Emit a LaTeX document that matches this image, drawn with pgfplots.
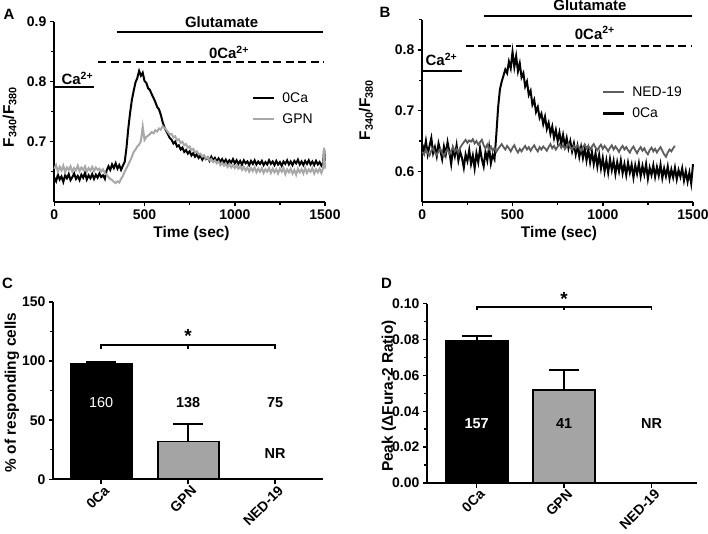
\documentclass[border=0pt]{standalone}
\usepackage{fontspec}
\setmainfont{Liberation Sans}
\usepackage{pgfplots}
\usepackage{pgfplotstable}
\pgfplotsset{compat=1.18}
\definecolor{gpn}{HTML}{A8A8A8}
\definecolor{ned}{HTML}{5E5E5E}
\definecolor{gpnbar}{HTML}{A4A4A4}
\newcommand\tfont{\bfseries\fontsize{15.5}{18}\selectfont}
\newcommand\afont{\bfseries\fontsize{15}{18}\selectfont}
\newcommand\nfont{\bfseries\fontsize{14.5}{17}\selectfont}
\pgfplotsset{prism/.style={scale only axis, axis lines=left, axis line style={-, line width=1.8bp},
  tick align=outside, major tick length=4.5bp, minor tick length=3bp,
  every tick/.style={black, line width=1.5bp},
  tick label style={font=\bfseries\fontsize{14}{16}\selectfont},
  label style={font=\tfont},
  /pgf/number format/assume math mode=true, /pgf/number format/set thousands separator={},
  clip=false, anchor=south west},
  trleg/.style={legend style={draw=none, fill=none, anchor=north west, font=\fontsize{14}{16}\selectfont, row sep=6bp, nodes={inner sep=2bp}},
  legend cell align=left,
  legend image code/.code={\draw[##1, line width=2.2bp] (0bp,0bp) -- (21bp,0bp); \path (26bp,0bp);}}}
\pgfplotstableread{
t zca gpn
0 .640 .655
10 .634 .661
20 .645 .650
30 .637 .658
40 .642 .652
50 .633 .660
60 .644 .649
70 .639 .657
80 .646 .653
90 .636 .659
100 .641 .650
110 .647 .656
120 .638 .652
130 .643 .660
140 .636 .651
150 .645 .657
160 .640 .653
170 .648 .659
180 .637 .650
190 .644 .656
200 .639 .652
210 .646 .658
220 .638 .651
230 .645 .657
240 .640 .653
250 .647 .655
260 .641 .650
270 .644 .654
280 .638 .648
290 .652 .645
300 .659 .641
310 .653 .638
320 .662 .636
330 .656 .633
340 .664 .631
350 .655 .634
360 .661 .632
370 .653 .638
380 .660 .643
390 .666 .650
400 .690 .656
410 .722 .662
420 .748 .668
430 .770 .675
440 .785 .683
450 .799 .687
460 .806 .692
470 .818 .695
480 .810 .701
490 .815 .725
500 .801 .703
510 .798 .708
520 .789 .710
530 .786 .713
540 .779 .716
550 .773 .714
560 .766 .719
570 .758 .717
580 .754 .722
590 .745 .720
600 .733 .726
610 .724 .723
620 .718 .720
630 .712 .716
640 .706 .712
650 .703 .713
660 .697 .707
670 .700 .709
680 .692 .702
690 .694 .704
700 .687 .698
710 .690 .700
720 .683 .694
730 .686 .696
740 .680 .690
750 .684 .692
760 .677 .686
770 .681 .688
780 .675 .682
790 .679 .684
800 .673 .679
810 .677 .680
820 .670 .675
830 .676 .677
840 .671 .672
850 .674 .674
860 .668 .669
870 .675 .671
880 .669 .666
890 .673 .669
900 .667 .664
910 .672 .667
920 .666 .661
930 .671 .665
940 .665 .660
950 .670 .664
960 .664 .658
970 .669 .662
980 .665 .657
990 .671 .661
1000 .664 .656
1010 .669 .660
1020 .663 .655
1030 .668 .659
1040 .662 .653
1050 .669 .658
1060 .664 .652
1070 .667 .657
1080 .661 .650
1090 .668 .656
1100 .663 .651
1110 .669 .657
1120 .662 .649
1130 .667 .655
1140 .663 .650
1150 .668 .656
1160 .661 .648
1170 .666 .654
1180 .662 .650
1190 .669 .656
1200 .663 .648
1210 .667 .655
1220 .661 .649
1230 .668 .654
1240 .662 .647
1250 .666 .655
1260 .660 .650
1270 .667 .656
1280 .663 .646
1290 .669 .654
1300 .662 .649
1310 .667 .655
1320 .661 .647
1330 .668 .653
1340 .664 .645
1350 .670 .655
1360 .662 .649
1370 .667 .654
1380 .661 .647
1390 .668 .656
1400 .663 .648
1410 .669 .654
1420 .662 .650
1430 .667 .656
1440 .661 .647
1450 .668 .654
1460 .662 .649
1470 .666 .655
1480 .660 .648
1490 .665 .656
1495 .688 .690
1500 .668 .655
}\tableA
\pgfplotstableread{
t zca ned
0 .645 .632
10 .632 .628
20 .650 .636
30 .628 .630
40 .642 .626
50 .655 .634
60 .630 .638
70 .640 .631
80 .625 .627
90 .646 .633
100 .634 .637
110 .620 .630
120 .641 .625
130 .628 .632
140 .648 .636
150 .632 .629
160 .612 .634
170 .637 .640
180 .625 .633
190 .643 .637
200 .618 .631
210 .632 .639
220 .622 .644
230 .606 .648
240 .628 .652
250 .617 .647
260 .635 .651
270 .612 .649
280 .626 .653
290 .605 .646
300 .630 .650
310 .615 .644
320 .638 .648
330 .620 .652
340 .608 .643
350 .632 .638
360 .618 .644
370 .640 .636
380 .613 .641
390 .627 .634
400 .620 .639
410 .660 .632
420 .705 .637
430 .735 .641
440 .748 .645
450 .758 .640
460 .768 .636
470 .762 .642
480 .781 .638
490 .770 .633
500 .797 .639
510 .772 .643
520 .790 .636
530 .765 .631
540 .778 .637
550 .755 .633
560 .762 .638
570 .740 .642
580 .748 .636
590 .726 .640
600 .733 .634
610 .710 .639
620 .718 .643
630 .698 .637
640 .706 .633
650 .688 .640
660 .695 .636
670 .678 .641
680 .690 .638
690 .670 .634
700 .680 .640
710 .662 .645
720 .674 .638
730 .655 .642
740 .668 .636
750 .650 .641
760 .664 .645
770 .645 .639
780 .660 .643
790 .642 .637
800 .655 .641
810 .638 .646
820 .650 .640
830 .633 .636
840 .646 .642
850 .628 .638
860 .642 .643
870 .624 .639
880 .640 .634
890 .622 .640
900 .638 .644
910 .618 .638
920 .636 .642
930 .615 .636
940 .632 .641
950 .612 .645
960 .630 .639
970 .608 .635
980 .627 .640
990 .605 .644
1000 .622 .637
1010 .600 .642
1020 .618 .638
1030 .598 .633
1040 .620 .639
1050 .602 .643
1060 .617 .636
1070 .596 .641
1080 .615 .637
1090 .600 .632
1100 .618 .638
1110 .597 .642
1120 .612 .636
1130 .594 .640
1140 .614 .635
1150 .598 .631
1160 .611 .637
1170 .590 .641
1180 .610 .635
1190 .596 .630
1200 .613 .636
1210 .592 .640
1220 .609 .634
1230 .595 .638
1240 .612 .632
1250 .588 .628
1260 .606 .635
1270 .594 .639
1280 .610 .633
1290 .591 .637
1300 .607 .631
1310 .593 .636
1320 .611 .640
1330 .589 .634
1340 .605 .628
1350 .592 .624
1360 .608 .631
1370 .588 .636
1380 .603 .633
1390 .590 .638
1400 .606 .642
1410 .587 nan
1420 .602 nan
1430 .591 nan
1440 .605 nan
1450 .585 nan
1460 .600 nan
1470 .583 nan
1480 .598 nan
1490 .580 nan
1500 .612 nan
}\tableB
\begin{document}
\begin{tikzpicture}
\path[use as bounding box] (0,0) rectangle (708bp,534bp);
\node[font=\bfseries\fontsize{15}{17}\selectfont] at (9bp,520bp) {A};
\node[font=\bfseries\fontsize{15}{17}\selectfont] at (385bp,522bp) {B};
\node[font=\bfseries\fontsize{15}{17}\selectfont] at (7.5bp,251bp) {C};
\node[font=\bfseries\fontsize{15}{17}\selectfont] at (386.5bp,251bp) {D};
% Panel A
\begin{axis}[prism, trleg, at={(54.3bp,332.3bp)}, width=270.7bp, height=180bp,
  xmin=0, xmax=1500, ymin=0.6, ymax=0.9,
  xtick={0,500,1000,1500}, minor xtick={250,750,1250},
  ytick={0.7,0.8,0.9}, minor ytick={0.65,0.75,0.85},
  xlabel={Time (sec)}, ylabel={F\textsubscript{340}/F\textsubscript{380}},
  xlabel style={at={(axis description cs:0.507,-0.174)}, anchor=center},
  ylabel style={at={(axis description cs:-0.165,0.47)}, anchor=center},
  legend style={at={(axis description cs:0.72,0.63)}}]
\addplot[black, line width=2bp] table[x=t, y=zca] {\tableA};
\addlegendentry{0Ca}
\addplot[gpn, line width=2bp] table[x=t, y=gpn] {\tableA};
\addlegendentry{GPN}
\draw[line width=2bp] (axis cs:345,0.8827) -- (axis cs:1490,0.8827);
\node[font=\afont, anchor=base] at (axis cs:927,0.8895) {Glutamate};
\draw[line width=2bp, dash pattern=on 8bp off 4.5bp] (axis cs:244,0.8333) -- (axis cs:1491,0.8333);
\node[font=\afont, anchor=base] at (axis cs:968,0.839) {0Ca\textsuperscript{2+}};
\draw[line width=2bp] (axis cs:0,0.7905) -- (axis cs:222,0.7905);
\node[font=\afont, anchor=base] at (axis cs:128,0.7955) {Ca\textsuperscript{2+}};
\end{axis}
% Panel B
\begin{axis}[prism, trleg, at={(422.3bp,332.3bp)}, width=270.7bp, height=182bp,
  xmin=0, xmax=1500, ymin=0.55, ymax=0.85,
  xtick={0,500,1000,1500}, minor xtick={250,750,1250},
  ytick={0.6,0.7,0.8}, minor ytick={0.65,0.75,0.85},
  xlabel={Time (sec)}, ylabel={F\textsubscript{340}/F\textsubscript{380}},
  xlabel style={at={(axis description cs:0.505,-0.177)}, anchor=center},
  ylabel style={at={(axis description cs:-0.208,0.504)}, anchor=center},
  reverse legend,
  legend style={at={(axis description cs:0.653,0.655)}}]
\addplot[black, line width=2bp] table[x=t, y=zca] {\tableB};
\addlegendentry{0Ca}
\addplot[ned, line width=1.8bp] table[x=t, y=ned] {\tableB};
\addlegendentry{NED-19}
\draw[line width=2bp] (axis cs:342,0.8564) -- (axis cs:1496,0.8564);
\node[font=\afont, anchor=base] at (axis cs:929,0.8646) {Glutamate};
\draw[line width=2bp, dash pattern=on 8bp off 4.5bp] (axis cs:240,0.807) -- (axis cs:1496,0.807);
\node[font=\afont, anchor=base] at (axis cs:956,0.818) {0Ca\textsuperscript{2+}};
\draw[line width=2bp] (axis cs:0,0.765) -- (axis cs:222,0.765);
\node[font=\afont, anchor=base] at (axis cs:106,0.774) {Ca\textsuperscript{2+}};
\end{axis}
% Panel C
\begin{axis}[prism, at={(53.3bp,54.7bp)}, width=269.7bp, height=177.3bp,
  xmin=-0.55, xmax=2.55, ymin=0, ymax=150,
  xtick={0,1,2}, xticklabels={0Ca,GPN,NED-19},
  xticklabel style={rotate=45, anchor=north east, inner sep=1bp, xshift=2bp, yshift=-1bp},
  ytick={0,50,100,150}, minor ytick={25,75,125},
  ylabel={\% of responding cells},
  ylabel style={at={(axis description cs:-0.153,0.49)}, anchor=center}]
\addplot[ybar, bar width=0.7, bar shift=0pt, fill=black, draw=black, line width=1.8bp,
  error bars/.cd, y dir=plus, y explicit, error bar style={line width=1.8bp},
  error mark options={rotate=90, mark size=15bp, line width=1.8bp}]
  coordinates {(0,98) +- (0,1.5)};
\addplot[ybar, bar width=0.7, bar shift=0pt, fill=gpnbar, draw=black, line width=1.8bp,
  error bars/.cd, y dir=plus, y explicit, error bar style={line width=1.8bp},
  error mark options={rotate=90, mark size=15bp, line width=1.8bp}]
  coordinates {(1,32) +- (0,15)};
\draw[line width=1.8bp] (axis cs:0,110) -- (axis cs:0,113.6) -- (axis cs:2,113.6) -- (axis cs:2,110);
\draw[line width=1.8bp] (axis cs:1,113.6) -- (axis cs:1,110);
\node[font=\bfseries\fontsize{19}{21}\selectfont] at (axis cs:1,121) {*};
\node[font=\fontsize{14.5}{17}\selectfont, text=white] at (axis cs:0,65.2) {160};
\node[font=\nfont] at (axis cs:1,65.2) {138};
\node[font=\nfont] at (axis cs:2,65.2) {75};
\node[font=\nfont] at (axis cs:2,21.6) {NR};
\end{axis}
% Panel D
\begin{axis}[prism, at={(427.3bp,51bp)}, width=269.7bp, height=179.3bp,
  xmin=-0.565, xmax=2.52, ymin=0, ymax=0.1,
  xtick={0,1,2}, xticklabels={0Ca,GPN,NED-19},
  xticklabel style={rotate=45, anchor=north east, inner sep=1bp, xshift=2bp, yshift=-1bp},
  ytick={0,0.02,0.04,0.06,0.08,0.1}, minor ytick={0.01,0.03,0.05,0.07,0.09},
  scaled y ticks=false,
  yticklabel style={/pgf/number format/.cd, fixed, fixed zerofill, precision=2},
  ylabel={Peak (ΔFura-2 Ratio)},
  ylabel style={at={(axis description cs:-0.142,0.485)}, anchor=center}]
\addplot[ybar, bar width=0.71, bar shift=0pt, fill=black, draw=black, line width=1.8bp,
  error bars/.cd, y dir=plus, y explicit, error bar style={line width=1.8bp},
  error mark options={rotate=90, mark size=15bp, line width=1.8bp}]
  coordinates {(0,0.0795) +- (0,0.0025)};
\addplot[ybar, bar width=0.71, bar shift=0pt, fill=gpnbar, draw=black, line width=1.8bp,
  error bars/.cd, y dir=plus, y explicit, error bar style={line width=1.8bp},
  error mark options={rotate=90, mark size=15bp, line width=1.8bp}]
  coordinates {(1,0.0517) +- (0,0.0112)};
\draw[line width=1.8bp] (axis cs:0,0.0965) -- (axis cs:0,0.0982) -- (axis cs:2,0.0982) -- (axis cs:2,0.0965);
\draw[line width=1.8bp] (axis cs:1,0.0982) -- (axis cs:1,0.0965);
\node[font=\bfseries\fontsize{19}{21}\selectfont] at (axis cs:1,0.1028) {*};
\node[font=\nfont, text=white] at (axis cs:0,0.0331) {157};
\node[font=\nfont] at (axis cs:1,0.0331) {41};
\node[font=\nfont] at (axis cs:2,0.0331) {NR};
\end{axis}
\end{tikzpicture}
\end{document}
